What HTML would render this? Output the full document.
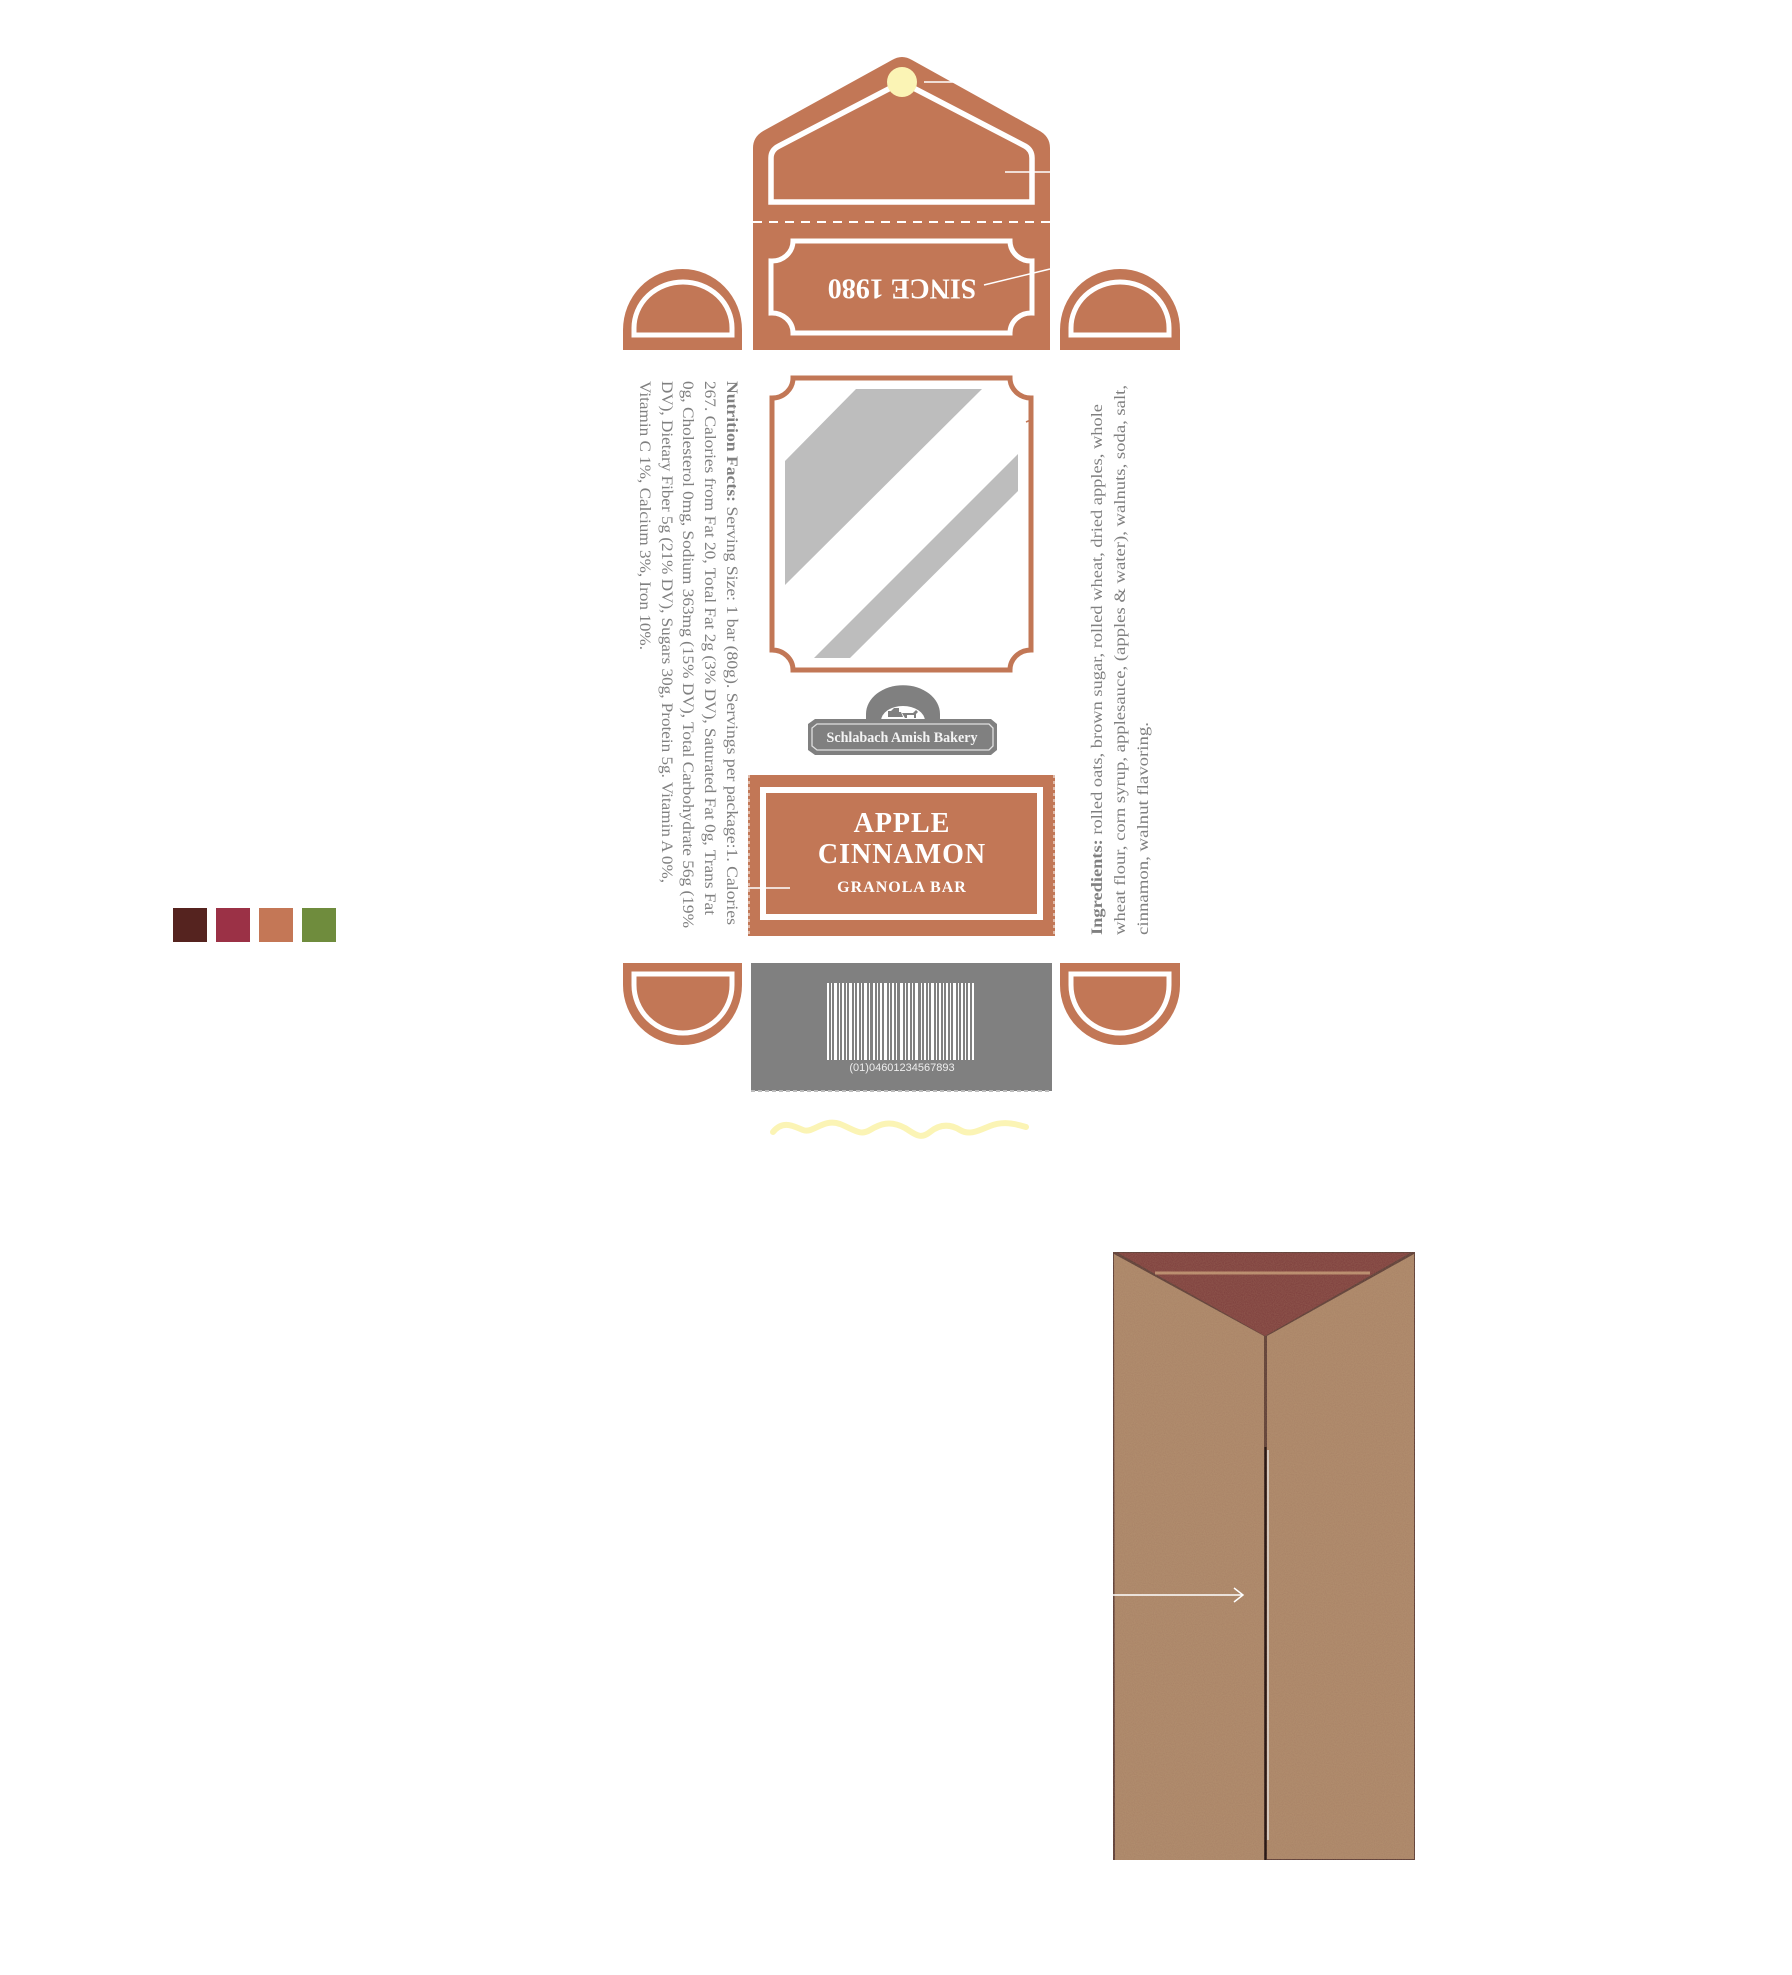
<!DOCTYPE html>
<html><head><meta charset="utf-8"><style>
html,body{margin:0;padding:0;background:#fff;}
svg{display:block;}
</style></head><body>
<svg width="1792" height="1975" viewBox="0 0 1792 1975" xmlns="http://www.w3.org/2000/svg" font-family="Liberation Serif, serif">
<defs>
<filter id="noise"><feTurbulence type="fractalNoise" baseFrequency="0.9" numOctaves="2" seed="3"/><feColorMatrix values="0 0 0 0 0.75  0 0 0 0 0.55  0 0 0 0 0.3  0 0 0 0.35 0"/><feComposite in2="SourceGraphic" operator="in"/></filter>
</defs>
<!-- swatches -->
<rect x="173" y="908" width="34" height="34" fill="#55231f"/>
<rect x="216" y="908" width="34" height="34" fill="#9b3146"/>
<rect x="259" y="908" width="34" height="34" fill="#c47756"/>
<rect x="302" y="908" width="34" height="34" fill="#6f8c3d"/>

<!-- top envelope flap -->
<path d="M753,148 Q753,136 765,130 L892,60 Q902,54 912,60 L1038,130 Q1050,136 1050,148 L1050,350 L753,350 Z" fill="#c27756"/>
<path d="M771,202 L771,158 Q771,150 779,146 L902,82 L1025,146 Q1032,150 1032,158 L1032,202 Z" fill="none" stroke="#fff" stroke-width="5.5"/>
<circle cx="902" cy="82" r="15" fill="#fbf4b5"/>
<line x1="924" y1="82" x2="954" y2="82" stroke="#fff" stroke-width="1.5"/>
<line x1="1005" y1="172" x2="1050" y2="172" stroke="#fff" stroke-width="1.5"/>
<line x1="753" y1="222" x2="1050" y2="222" stroke="#fff" stroke-width="2" stroke-dasharray="9,7"/>
<path d="M793,241 L1010,241 A21,20 0 0 0 1032,261 L1032,313 A21,20 0 0 0 1010,333 L793,333 A21,20 0 0 0 771,313 L771,261 A21,20 0 0 0 793,241 Z" fill="none" stroke="#fff" stroke-width="5"/>
<text x="0" y="0" transform="translate(902,286) rotate(180)" text-anchor="middle" font-size="28" font-weight="bold" fill="#fff" dominant-baseline="middle">SINCE 1980</text>
<line x1="984" y1="285" x2="1050" y2="269" stroke="#fff" stroke-width="1.5"/>

<!-- top side tabs -->
<path d="M623,350 L623,330 A59.5,61 0 0 1 742,330 L742,350 Z" fill="#c27756"/>
<path d="M634,335 L634,328 A49,46 0 0 1 732,328 L732,335 Z" fill="none" stroke="#fff" stroke-width="5"/>
<path d="M1060,350 L1060,330 A60,61 0 0 1 1180,330 L1180,350 Z" fill="#c27756"/>
<path d="M1071,335 L1071,328 A49,46 0 0 1 1169,328 L1169,335 Z" fill="none" stroke="#fff" stroke-width="5"/>

<!-- window -->
<path d="M793,378 L1010,378 A21,20 0 0 0 1031,398 L1031,650 A21,20 0 0 0 1010,670 L793,670 A21,20 0 0 0 772,650 L772,398 A21,20 0 0 0 793,378 Z" fill="none" stroke="#c27756" stroke-width="5"/>
<polygon points="856,389 982,389 785,585 785,461" fill="#bdbdbd"/>
<polygon points="1018,454 1018,491 850,658 814,658" fill="#bdbdbd"/>
<line x1="1026" y1="422" x2="1033" y2="419" stroke="#c27756" stroke-width="1.5"/>

<!-- nutrition text -->
<g font-size="16" fill="#808080">
<text transform="translate(727,381) rotate(90)" textLength="544" lengthAdjust="spacingAndGlyphs"><tspan font-weight="bold">Nutrition Facts:</tspan> Serving Size: 1 bar (80g). Servings per package:1. Calories</text>
<text transform="translate(705,381) rotate(90)" textLength="534" lengthAdjust="spacingAndGlyphs">267. Calories from Fat 20, Total Fat 2g (3% DV), Saturated Fat 0g, Trans Fat</text>
<text transform="translate(683,381) rotate(90)" textLength="547" lengthAdjust="spacingAndGlyphs">0g, Cholesterol 0mg, Sodium 363mg (15% DV), Total Carbohydrate 56g (19%</text>
<text transform="translate(662,381) rotate(90)" textLength="502" lengthAdjust="spacingAndGlyphs">DV), Dietary Fiber 5g (21% DV), Sugars 30g, Protein 5g. Vitamin A 0%,</text>
<text transform="translate(640,381) rotate(90)" textLength="269" lengthAdjust="spacingAndGlyphs">Vitamin C 1%, Calcium 3%, Iron 10%.</text>
</g>

<!-- ingredients text -->
<g font-size="16" fill="#808080">
<text transform="translate(1102,935) rotate(-90)" textLength="531" lengthAdjust="spacingAndGlyphs"><tspan font-weight="bold">Ingredients:</tspan> rolled oats, brown sugar, rolled wheat, dried apples, whole</text>
<text transform="translate(1125,935) rotate(-90)" textLength="550" lengthAdjust="spacingAndGlyphs">wheat flour, corn syrup, applesauce, (apples &amp; water), walnuts, soda, salt,</text>
<text transform="translate(1148,935) rotate(-90)" textLength="213" lengthAdjust="spacingAndGlyphs">cinnamon, walnut flavoring.</text>
</g>

<!-- logo -->
<g>
<path d="M866,722 L866,714 A36,28 0 0 1 940,714 L940,722 Z" fill="#808080"/>
<path d="M881,721 A22,15 0 0 1 925,721 Z" fill="#fff"/>
<path d="M888,717 v-6 h3 l3,-3 h5 v4 h2 l2,5 z" fill="#808080"/>
<path d="M902,713 h11 l3,-3 l2,2 l-2,2 v4 h-2 v-3 h-7 v3 h-2 z" fill="#808080"/>
<path d="M815,719 L991,719 L997,724 L997,750 L991,755 L815,755 L808,750 L808,724 Z" fill="#808080"/>
<path d="M817,724 L989,724 L993,728 L993,746 L989,750 L817,750 L812,746 L812,728 Z" fill="none" stroke="#e0e0e0" stroke-width="1.3"/>
<text x="902" y="742" text-anchor="middle" font-size="15" font-weight="bold" fill="#f4f4f4" textLength="151" lengthAdjust="spacingAndGlyphs">Schlabach Amish Bakery</text>
</g>

<!-- title -->
<rect x="748" y="775" width="307" height="161" fill="#c27756"/>
<line x1="749" y1="775" x2="749" y2="936" stroke="#fff" stroke-width="1" stroke-dasharray="3,3"/>
<line x1="1054" y1="775" x2="1054" y2="936" stroke="#fff" stroke-width="1" stroke-dasharray="3,3"/>
<rect x="763" y="790" width="277" height="127" fill="none" stroke="#fff" stroke-width="6"/>
<text x="902" y="832" text-anchor="middle" font-size="28" font-weight="bold" fill="#fff" letter-spacing="1">APPLE</text>
<text x="902" y="863" text-anchor="middle" font-size="28" font-weight="bold" fill="#fff" letter-spacing="1">CINNAMON</text>
<text x="902" y="892" text-anchor="middle" font-size="16" font-weight="bold" fill="#fff" letter-spacing="1">GRANOLA BAR</text>
<line x1="748" y1="888" x2="790" y2="888" stroke="#fff" stroke-width="1.5"/>

<!-- bottom tabs -->
<path d="M623,963 L742,963 L742,985 A59.5,60 0 0 1 623,985 Z" fill="#c27756"/>
<path d="M634,974 L732,974 L732,985 A49,48 0 0 1 634,985 Z" fill="none" stroke="#fff" stroke-width="5"/>
<path d="M1060,963 L1180,963 L1180,985 A60,60 0 0 1 1060,985 Z" fill="#c27756"/>
<path d="M1071,974 L1169,974 L1169,985 A49,48 0 0 1 1071,985 Z" fill="none" stroke="#fff" stroke-width="5"/>

<!-- barcode panel -->
<rect x="751" y="963" width="301" height="128" fill="#808080"/>
<line x1="751" y1="1091" x2="1052" y2="1091" stroke="#bbb" stroke-width="2" stroke-dasharray="4,3"/>
<g fill="#fff">
<rect x="827" y="983" width="2" height="77"/><rect x="831" y="983" width="1" height="77"/><rect x="834" y="983" width="3" height="77"/><rect x="839" y="983" width="1" height="77"/><rect x="842" y="983" width="2" height="77"/><rect x="846" y="983" width="1" height="77"/><rect x="849" y="983" width="3" height="77"/><rect x="854" y="983" width="1" height="77"/><rect x="857" y="983" width="2" height="77"/><rect x="861" y="983" width="1" height="77"/><rect x="864" y="983" width="3" height="77"/><rect x="869" y="983" width="1" height="77"/><rect x="873" y="983" width="2" height="77"/><rect x="877" y="983" width="1" height="77"/><rect x="880" y="983" width="2" height="77"/><rect x="884" y="983" width="3" height="77"/><rect x="889" y="983" width="1" height="77"/><rect x="892" y="983" width="2" height="77"/><rect x="896" y="983" width="1" height="77"/><rect x="900" y="983" width="3" height="77"/><rect x="905" y="983" width="1" height="77"/><rect x="908" y="983" width="2" height="77"/><rect x="912" y="983" width="1" height="77"/><rect x="915" y="983" width="3" height="77"/><rect x="921" y="983" width="1" height="77"/><rect x="924" y="983" width="2" height="77"/><rect x="928" y="983" width="1" height="77"/><rect x="931" y="983" width="3" height="77"/><rect x="936" y="983" width="1" height="77"/><rect x="939" y="983" width="2" height="77"/><rect x="943" y="983" width="1" height="77"/><rect x="946" y="983" width="2" height="77"/><rect x="950" y="983" width="1" height="77"/><rect x="953" y="983" width="3" height="77"/><rect x="958" y="983" width="1" height="77"/><rect x="961" y="983" width="2" height="77"/><rect x="965" y="983" width="1" height="77"/><rect x="968" y="983" width="2" height="77"/><rect x="972" y="983" width="2" height="77"/>
</g>
<text x="902" y="1071" text-anchor="middle" font-family="Liberation Sans, sans-serif" font-size="11" fill="#eee">(01)04601234567893</text>

<!-- wavy -->
<path d="M773,1132 C783,1120 793,1126 803,1130 C813,1134 823,1118 840,1124 C855,1130 860,1136 870,1130 C880,1124 890,1120 905,1128 C915,1134 920,1140 930,1132 C940,1124 950,1124 960,1130 C970,1136 980,1130 990,1126 C1000,1122 1010,1122 1026,1127" fill="none" stroke="#fbf4b5" stroke-width="6" stroke-linecap="round"/>

<!-- kraft box -->
<rect x="1113" y="1252" width="302" height="608" fill="#5a3a35"/>
<polygon points="1118,1253 1410,1253 1265,1336" fill="#7c3d3c"/>
<line x1="1155" y1="1273" x2="1370" y2="1273" stroke="#b7896c" stroke-width="3"/>
<polygon points="1114,1254 1264,1336 1264,1860 1115,1860" fill="#a88266"/>
<polygon points="1267,1336 1414,1254 1414,1859 1267,1859" fill="#a88266"/>
<rect x="1113" y="1252" width="302" height="608" fill="#fff" filter="url(#noise)" opacity="0.6"/>
<line x1="1265" y1="1336" x2="1265" y2="1447" stroke="#6a4a3a" stroke-width="1"/>
<line x1="1265.5" y1="1447" x2="1265.5" y2="1860" stroke="#2a1a15" stroke-width="2"/>
<line x1="1268" y1="1450" x2="1268" y2="1840" stroke="#eee" stroke-width="1.2"/>
<line x1="1113" y1="1595" x2="1243" y2="1595" stroke="#fff" stroke-width="1.5"/>
<polyline points="1234,1588 1243,1595 1234,1602" fill="none" stroke="#fff" stroke-width="1.5"/>
</svg>
</body></html>
